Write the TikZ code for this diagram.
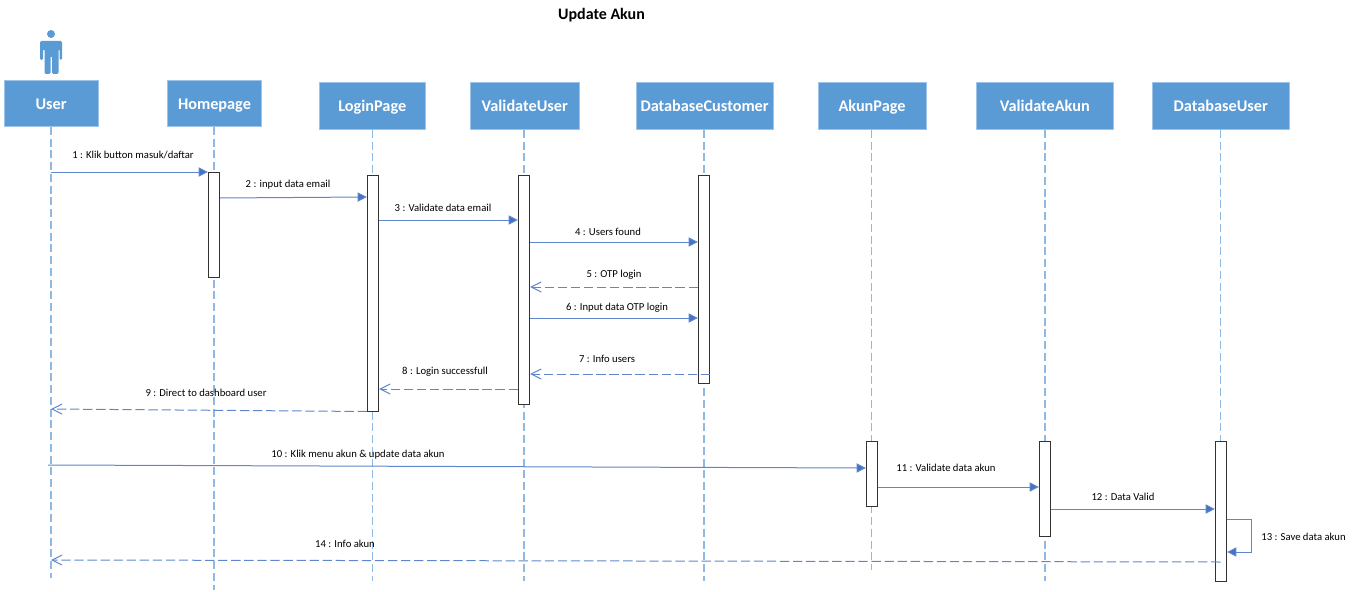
\documentclass[tikz,border=0pt]{standalone}
\usepackage{fontspec}
\setmainfont{Carlito}
\usetikzlibrary{arrows.meta}
\definecolor{boxblue}{HTML}{5B9BD5}
\definecolor{lifeblue}{HTML}{8DB9E2}
\definecolor{msgblue}{HTML}{4472C4}
\tikzset{
  head/.style={draw=boxblue!60!white,line width=0.4pt,fill=boxblue,text=white,font=\fontsize{12.2pt}{14pt}\selectfont\bfseries,minimum height=34.8pt,inner sep=0pt,anchor=north west,text height=8.5pt,text depth=0pt},
  act/.style={draw=black!80,line width=0.8pt,fill=white,minimum width=8.4pt,inner sep=0pt,anchor=north},
  lifeline/.style={draw=lifeblue,line width=0.8pt,dash pattern=on 6pt off 2.8pt},
  msg/.style={draw=msgblue!85!white,line width=0.75pt,-{Triangle[length=6.9pt,width=6.9pt,fill=msgblue]}},
  ret/.style={draw=msgblue!85!white,line width=0.75pt,dash pattern=on 7pt off 2.8pt,-{Straight Barb[length=7.5pt,width=7.5pt]}},
  lab/.style={font=\fontsize{8pt}{9pt}\selectfont,text=black,inner sep=0pt},
}
\begin{document}
\begin{tikzpicture}[x=0.75pt,y=-0.75pt]
\useasboundingbox (0,0) rectangle (1353,592);
\node[font=\fontsize{12pt}{14pt}\selectfont\bfseries] (title) at (601.5,15) {Update Akun};
% actor
\fill[boxblue] (51,34) circle (3pt);
\fill[boxblue,rounded corners=1pt] (40,41) -- (62,41) -- (62,60) -- (59.5,60) -- (59.5,49) -- (58.5,49) -- (58.5,74) -- (52,74) -- (52,56) -- (50.5,56) -- (50.5,74) -- (44.5,74) -- (44.5,49) -- (43,49) -- (43,60) -- (40,60) -- cycle;
% heads
\node[head,minimum width=70.8pt] (user) at (3.7,80) {User};
\node[head,minimum width=70.8pt] (home) at (167,80) {Homepage};
\node[head,minimum width=79.5pt] (login) at (319,82.5) {LoginPage};
\node[head,minimum width=81.75pt] (valu) at (470,82.5) {ValidateUser};
\node[head,minimum width=102.5pt] (dbc) at (636,82.5) {DatabaseCustomer};
\node[head,minimum width=81.4pt] (akun) at (817.5,82.5) {AkunPage};
\node[head,minimum width=102.75pt] (vala) at (976,82.5) {ValidateAkun};
\node[head,minimum width=102.75pt] (dbu) at (1152,82.5) {DatabaseUser};
% lifeline anchors
\coordinate (lu) at (51,127);   \coordinate (lue) at (51,578);
\coordinate (lh) at (214,127);  \coordinate (lhe) at (214,590);
\coordinate (ll) at (372.5,130);  \coordinate (lle) at (372.5,581);
\coordinate (lv) at (524,130);  \coordinate (lve) at (524,581);
\coordinate (ld) at (704,130);  \coordinate (lde) at (704,581);
\coordinate (la) at (871.5,130);  \coordinate (lae) at (871.5,570);
\coordinate (lw) at (1045,130); \coordinate (lwe) at (1045,581);
\coordinate (lb) at (1220.5,130); \coordinate (lbe) at (1220.5,581);
\foreach \a/\b in {lu/lue,lh/lhe,ll/lle,lv/lve,ld/lde,la/lae,lw/lwe,lb/lbe}
  \draw[lifeline] (\a) -- (\b);
% activations
\node[act,minimum height=78.75pt] (ah) at (214,172) {};
\node[act,minimum height=177pt] (al) at (373,175) {};
\node[act,minimum height=171.75pt] (av) at (524,175) {};
\node[act,minimum height=156pt] (ad) at (704,175) {};
\node[act,minimum height=48.75pt] (aa) at (872,441) {};
\node[act,minimum height=71.25pt] (aw) at (1045,441) {};
\node[act,minimum height=105pt] (ab) at (1221,441) {};
% messages
\draw[msg] (lu |- 0,172) -- (ah.west |- 0,172);
\node[lab] (t1) at (133,155) {1 : Klik button masuk/daftar};
\draw[msg] (ah.east |- 0,198) -- (al.west |- 0,197);
\node[lab] (t2) at (288,185) {2 : input data email};
\draw[msg] (al.east |- 0,220) -- (av.west |- 0,220);
\node[lab] (t3) at (443,208) {3 : Validate data email};
\draw[msg] (av.east |- 0,242) -- (ad.west |- 0,242);
\node[lab] (t4) at (608,232) {4 : Users found};
\draw[ret] (ad.west |- 0,287) -- (av.east |- 0,287);
\node[lab] (t5) at (614,275) {5 : OTP login};
\draw[msg] (av.east |- 0,318) -- (ad.west |- 0,318);
\node[lab] (t6) at (617,308) {6 : Input data OTP login};
\draw[ret] (ad.south east |- 0,374) -- (av.east |- 0,374);
\node[lab] (t7) at (607,359) {7 : Info users};
\draw[ret] (av.west |- 0,389) -- (al.east |- 0,389);
\node[lab] (t8) at (445,372) {8 : Login successfull};
\draw[ret] (al.south west |- 0,411.5) -- (lu |- 0,409);
\node[lab] (t9) at (206,393) {9 : Direct to dashboard user};
\coordinate (m10) at (48,465);
\draw[msg] (m10) -- (aa.west |- 0,468);
\node[lab] (t10) at (358,455) {10 : Klik menu akun \& update data akun};
\draw[msg] (aa.east |- 0,487) -- (aw.west |- 0,487);
\node[lab] (t11) at (946,468) {11 : Validate data akun};
\draw[msg] (aw.east |- 0,509) -- (ab.west |- 0,509);
\node[lab] (t12) at (1123,497) {12 : Data Valid};
\draw[msg] (ab.east |- 0,519) -- (1251,519) -- (1251,552) -- (ab.east |- 0,552);
\node[lab] (t13) at (1303.5,537) {13 : Save data akun};
\draw[ret] (lb |- 0,562) -- (lu |- 0,560);
\node[lab] (t14) at (345,544) {14 : Info akun};
\end{tikzpicture}
\end{document}
